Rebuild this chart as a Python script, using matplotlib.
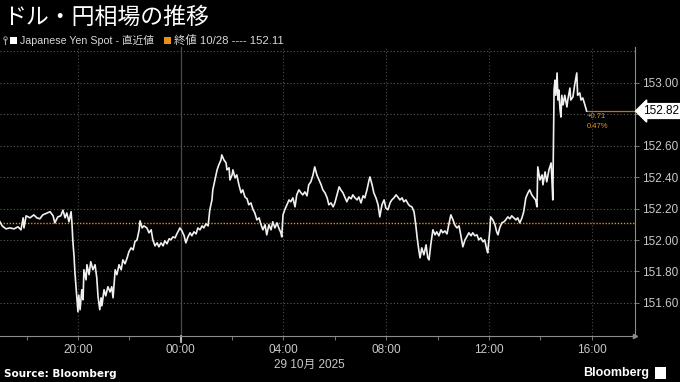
import matplotlib
matplotlib.use("Agg")
import matplotlib.pyplot as plt
import matplotlib.dates as mdates
import matplotlib.transforms as mtrans
from matplotlib.patches import Rectangle
from matplotlib import font_manager
import pandas as pd

# USD/JPY spot, 28-29 Oct 2025 (Tokyo time)
times = ["16:58", "17:03", "17:12", "17:21", "17:31", "17:40", "17:47", "17:52", "17:54", "17:59",
         "18:08", "18:17", "18:24", "18:31", "18:38", "18:48", "18:55", "19:02", "19:06", "19:13",
         "19:20", "19:25", "19:30", "19:34", "19:39", "19:44", "19:46", "19:48", "19:51", "19:53",
         "19:58", "20:00", "20:02", "20:05", "20:09", "20:12", "20:14", "20:19", "20:21", "20:26",
         "20:30", "20:35", "20:40", "20:44", "20:47", "20:51", "20:54", "20:56", "21:01", "21:05",
         "21:10", "21:15", "21:19", "21:22", "21:27", "21:31", "21:36", "21:41", "21:45", "21:50",
         "21:55", "21:59", "22:04", "22:09", "22:13", "22:18", "22:23", "22:25", "22:30", "22:34",
         "22:41", "22:46", "22:51", "22:55", "23:00", "23:05", "23:09", "23:14", "23:19", "23:23",
         "23:28", "23:33", "23:37", "23:42", "23:47", "23:51", "23:56", "23:58", "00:03", "00:08",
         "00:12", "00:17", "00:22", "00:26", "00:31", "00:36", "00:40", "00:45", "00:50", "00:54",
         "00:59", "01:04", "01:08", "01:13", "01:15", "01:20", "01:25", "01:29", "01:34", "01:36",
         "01:41", "01:46", "01:48", "01:53", "01:55", "02:00", "02:02", "02:07", "02:11", "02:16",
         "02:21", "02:25", "02:30", "02:35", "02:39", "02:44", "02:49", "02:53", "02:58", "03:03",
         "03:07", "03:12", "03:17", "03:21", "03:26", "03:31", "03:35", "03:40", "03:45", "03:49",
         "03:54", "03:56", "03:59", "04:03", "04:08", "04:13", "04:17", "04:22", "04:27", "04:31",
         "04:36", "04:41", "04:45", "04:50", "04:55", "04:59", "05:04", "05:09", "05:13", "05:18",
         "05:23", "05:28", "05:32", "05:37", "05:42", "05:46", "05:51", "05:56", "06:00", "06:05",
         "06:10", "06:14", "06:19", "06:24", "06:28", "06:33", "06:38", "06:42", "06:47", "06:52",
         "06:56", "07:01", "07:06", "07:10", "07:15", "07:20", "07:22", "07:27", "07:31", "07:36",
         "07:41", "07:45", "07:50", "07:55", "07:59", "08:04", "08:09", "08:13", "08:18", "08:23",
         "08:27", "08:32", "08:37", "08:41", "08:46", "08:51", "08:55", "09:00", "09:05", "09:09",
         "09:12", "09:16", "09:19", "09:23", "09:28", "09:33", "09:37", "09:40", "09:44", "09:49",
         "09:54", "09:58", "10:03", "10:08", "10:12", "10:17", "10:22", "10:26", "10:31", "10:36",
         "10:40", "10:45", "10:50", "10:54", "10:59", "11:04", "11:08", "11:13", "11:18", "11:22",
         "11:27", "11:32", "11:36", "11:41", "11:46", "11:50", "11:55", "11:57", "12:02", "12:04",
         "12:09", "12:14", "12:18", "12:21", "12:25", "12:30", "12:35", "12:39", "12:44", "12:49",
         "12:53", "12:58", "13:03", "13:07", "13:12", "13:17", "13:21", "13:26", "13:31", "13:35",
         "13:40", "13:45", "13:49", "13:52", "13:54", "13:59", "14:04", "14:06", "14:11", "14:15",
         "14:20", "14:25", "14:27", "14:29", "14:32", "14:34", "14:36", "14:39", "14:41", "14:43",
         "14:46", "14:48", "14:50", "14:53", "14:57", "15:02", "15:04", "15:09", "15:11", "15:16",
         "15:20", "15:25", "15:27", "15:32", "15:35", "15:39", "15:44", "15:48"]
prices = [152.116, 152.090, 152.071, 152.077, 152.071, 152.084, 152.065, 152.141, 152.077, 152.154,
          152.141, 152.160, 152.141, 152.135, 152.160, 152.172, 152.180, 152.154, 152.109, 152.147,
          152.154, 152.190, 152.141, 152.172, 152.116, 152.180, 152.109, 152.000, 151.893, 151.792,
          151.620, 151.544, 151.650, 151.557, 151.684, 151.620, 151.811, 151.747, 151.843, 151.780,
          151.862, 151.811, 151.843, 151.760, 151.639, 151.557, 151.633, 151.582, 151.684, 151.645,
          151.703, 151.670, 151.703, 151.633, 151.811, 151.780, 151.843, 151.811, 151.874, 151.849,
          151.887, 151.925, 151.950, 151.938, 151.989, 152.001, 152.065, 152.122, 152.077, 152.090,
          152.077, 152.046, 152.065, 152.001, 151.963, 151.982, 151.957, 151.982, 151.963, 151.995,
          151.976, 152.008, 152.001, 152.020, 152.014, 152.039, 152.065, 152.077, 152.058, 152.027,
          151.982, 152.020, 152.046, 152.027, 152.052, 152.039, 152.077, 152.065, 152.090, 152.077,
          152.103, 152.090, 152.192, 152.255, 152.319, 152.382, 152.446, 152.478, 152.509, 152.541,
          152.509, 152.490, 152.446, 152.459, 152.382, 152.414, 152.446, 152.395, 152.414, 152.351,
          152.300, 152.319, 152.274, 152.262, 152.224, 152.236, 152.192, 152.173, 152.128, 152.141,
          152.103, 152.065, 152.097, 152.033, 152.097, 152.065, 152.116, 152.077, 152.109, 152.077,
          152.046, 152.020, 152.160, 152.192, 152.224, 152.255, 152.243, 152.268, 152.211, 152.287,
          152.319, 152.300, 152.287, 152.306, 152.281, 152.351, 152.370, 152.414, 152.465, 152.414,
          152.382, 152.351, 152.319, 152.300, 152.268, 152.224, 152.236, 152.211, 152.236, 152.287,
          152.338, 152.319, 152.300, 152.268, 152.243, 152.274, 152.262, 152.287, 152.268, 152.255,
          152.274, 152.236, 152.281, 152.268, 152.319, 152.382, 152.401, 152.351, 152.300, 152.268,
          152.224, 152.147, 152.224, 152.255, 152.204, 152.192, 152.236, 152.255, 152.268, 152.287,
          152.274, 152.255, 152.268, 152.243, 152.255, 152.230, 152.217, 152.211, 152.179, 152.097,
          152.020, 151.938, 151.887, 151.950, 151.906, 151.969, 151.887, 151.874, 151.969, 152.065,
          152.033, 152.052, 152.027, 152.065, 152.046, 152.058, 152.039, 152.097, 152.160, 152.128,
          152.097, 152.077, 152.090, 152.033, 151.957, 152.001, 152.020, 152.046, 152.027, 152.046,
          152.027, 152.033, 152.001, 152.014, 151.989, 152.001, 151.938, 151.919, 152.065, 152.147,
          152.128, 152.097, 152.052, 152.033, 152.077, 152.109, 152.116, 152.128, 152.147, 152.135,
          152.154, 152.141, 152.128, 152.141, 152.109, 152.141, 152.179, 152.268, 152.300, 152.319,
          152.287, 152.268, 152.255, 152.211, 152.465, 152.382, 152.414, 152.351, 152.433, 152.370,
          152.446, 152.490, 152.382, 152.255, 152.954, 153.016, 152.920, 153.062, 152.890, 152.954,
          152.827, 152.782, 152.920, 152.859, 152.920, 152.846, 152.890, 152.966, 152.890, 152.909,
          152.985, 153.062, 152.920, 152.935, 152.890, 152.903, 152.859, 152.820]
prev_close = 152.11
yticks = [151.6, 151.8, 152.0, 152.2, 152.4, 152.6, 152.8, 153.0]

names = {f.name for f in font_manager.fontManager.ttflist}
narrow = "Liberation Sans Narrow" if "Liberation Sans Narrow" in names else "Liberation Sans"
cjk = "Noto Sans CJK JP"
plt.rcParams["font.family"] = [narrow, cjk, "DejaVu Sans"]

# build timestamps, rolling over to the next day at midnight
day = pd.Timestamp("2025-10-28")
stamps = []
for t in times:
    ts = day + pd.Timedelta(t + ":00")
    if stamps and ts < stamps[-1]:
        day += pd.Timedelta(days=1)
        ts = day + pd.Timedelta(t + ":00")
    stamps.append(ts)

grey = "#c8c8c8"
axcol = "#8c8c8c"
orange = "#e8901c"

fig = plt.figure(figsize=(6.8, 3.82), dpi=100, facecolor="black")
ax = fig.add_axes([0, 46 / 382, 635 / 680, 289 / 382], facecolor="black")

x0 = pd.Timestamp("2025-10-28 16:58")
x1 = pd.Timestamp("2025-10-29 17:41")
ax.set_xlim(x0, x1)
ax.set_ylim(151.39, 153.227)

for v in yticks + [153.2]:
    ax.axhline(v, color="#5c5c5c", lw=0.8, ls=(0, (1, 2)), zorder=1)
for h in pd.date_range("2025-10-28 20:00", "2025-10-29 16:00", freq="4h"):
    if h.hour == 0:
        ax.axvline(h, color="#4a4a4a", lw=0.9, zorder=1)
    else:
        ax.axvline(h, color="#4a4a4a", lw=0.8, ls=(0, (1, 2)), zorder=1)

ax.axhline(prev_close, color=orange, lw=1.0, ls=(0, (1, 1.2)), zorder=2)
ax.plot(stamps, prices, color="#f0f0f0", lw=1.2, zorder=3)

last = prices[-1]
ax.plot([stamps[-1], x1], [last, last], color="#b8741c", lw=0.9, zorder=2, clip_on=False)
chg = last - prev_close
pct = chg / prev_close * 100
ax.annotate(f"+{chg:.2f}", xy=(stamps[-1], last), xytext=(0, -4), textcoords="offset points",
            color=orange, fontsize=5.5, ha="left", va="center")
ax.annotate(f"{pct:.2f}%", xy=(stamps[-1], last), xytext=(0, -11), textcoords="offset points",
            color=orange, fontsize=5.5, ha="left", va="center")

blend = mtrans.blended_transform_factory(ax.transAxes, ax.transData)
ax.annotate(f"{last:.2f}", xy=(1.0, last), xycoords=blend, xytext=(6, 0), textcoords="offset points",
            color="black", fontsize=8.5, ha="left", va="center", annotation_clip=False,
            bbox=dict(boxstyle="larrow,pad=0.12", fc="white", ec="white"), zorder=10)

# axes styling
for s in ["top", "left"]:
    ax.spines[s].set_visible(False)
for s in ["right", "bottom"]:
    ax.spines[s].set_color(axcol)
    ax.spines[s].set_linewidth(0.8)
ax.plot(1, 0, ">", transform=ax.transAxes, clip_on=False, ms=3, color=axcol)

ax.yaxis.tick_right()
ax.set_yticks(yticks)
ax.set_yticklabels(["" if abs(v - 152.8) < 1e-9 else f"{v:.2f}" for v in yticks])
ax.xaxis.set_major_locator(mdates.HourLocator(byhour=[0, 4, 8, 12, 16, 20]))
ax.xaxis.set_minor_locator(mdates.HourLocator(byhour=range(0, 24, 2)))
ax.xaxis.set_major_formatter(mdates.DateFormatter("%H:%M"))
ax.tick_params(axis="both", which="both", colors=axcol, labelcolor=grey, labelsize=8.5,
               length=3, width=0.6)
ax.tick_params(axis="y", pad=2)
ax.tick_params(axis="x", pad=3)
midnight = pd.Timestamp("2025-10-29 00:00")
bx = mtrans.blended_transform_factory(ax.transData, ax.transAxes)
ax.plot([midnight, midnight], [0, -0.02], transform=bx, color="#d0d0d0", lw=1.2, clip_on=False)

fig.text(309 / 680, 1 - 365 / 382, "29 10月 2025", color=grey, fontsize=8.5, ha="center", va="center")

# header
fig.text(0.004, 1 - 17 / 382, "ドル・円相場の推移", color="white", fontsize=16.5,
         family=[cjk], va="center", ha="left")
ly = 1 - 40 / 382
fig.add_artist(plt.Line2D([4.5 / 680, 4.5 / 680], [1 - 44 / 382, 1 - 39 / 382], color="#aaaaaa", lw=0.8))
fig.add_artist(plt.Line2D([4.5 / 680], [1 - 38 / 382], marker="o", ms=2.5, mfc="none", mec="#aaaaaa", mew=0.6))
fig.add_artist(Rectangle((10 / 680, 1 - 44 / 382), 7 / 680, 7 / 382, transform=fig.transFigure,
                         fc="white", ec="none"))
fig.text(20 / 680, ly, "Japanese Yen Spot - 直近値", color="#d8d8d8", fontsize=7.7, va="center")
fig.add_artist(Rectangle((164 / 680, 1 - 44 / 382), 7 / 680, 7 / 382, transform=fig.transFigure,
                         fc=orange, ec="none"))
fig.text(174 / 680, ly, f"終値 10/28 ---- {prev_close:.2f}", color="#d8d8d8", fontsize=8.2, va="center")

# footer
fig.text(4 / 680, 1 - 374 / 382, "Source: Bloomberg", color="white", fontsize=7.5,
         fontweight="bold", family="DejaVu Sans", va="center")
fig.text(649 / 680, 1 - 373 / 382, "Bloomberg", color="white", fontsize=9,
         fontweight="bold", va="center", ha="right")
fig.add_artist(Rectangle((655 / 680, 1 - 379 / 382), 11 / 680, 12 / 382, transform=fig.transFigure,
                         fc="white", ec="none"))

fig.savefig("out.png", dpi=100, facecolor="black")
